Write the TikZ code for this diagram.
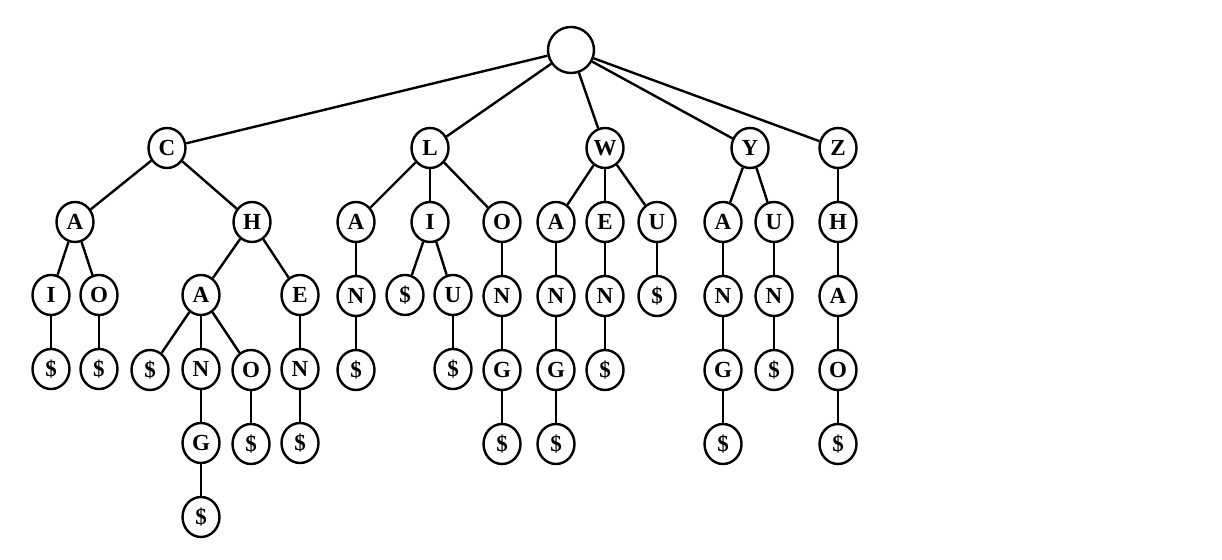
\documentclass[tikz,border=0pt]{standalone}
\usepackage{tikz}
\usepackage{fontspec}
\setmainfont{Liberation Serif}
\usetikzlibrary{shapes.geometric}

\begin{document}
\begin{tikzpicture}[x=0.5pt, y=-0.5pt, node distance={37pt}, line width=1.2pt,
        main/.style = {draw, ellipse, inner sep=0pt, minimum width=18.5pt, minimum height=20pt, font=\fontsize{11.5}{12}\selectfont\bfseries}]
            \useasboundingbox (0,0) rectangle (1222,560);

            \node[main, circle, minimum size=23pt] (R) at (571,50) {};

            \node[main] (C) at (167,148) {C};
            \node[main] (L) at (430,148) {L};
            \node[main] (W) at (605,148) {W};
            \node[main] (Y) at (750,148) {Y};
            \node[main] (Z) at (838,148) {Z};

            % C
            \node[main] (CA) at (75,222) {A};
            \node[main] (CH) at (252,222) {H};
            \node[main] (CAI) at (51,295) {I};
            \node[main] (CAO) at (99,295) {O};
            \node[main] (CAIs) [below of=CAI] {\$};
            \node[main] (CAOs) [below of=CAO] {\$};
            \node[main] (CHA) at (201,295) {A};
            \node[main] (CHE) at (300,295) {E};
            \node[main] (CHAs) at (150,370) {\$};
            \node[main] (CHAN) [below of=CHA] {N};
            \node[main] (CHAO) at (251,370) {O};
            \node[main] (CHEN) [below of=CHE] {N};
            \node[main] (CHANG) [below of=CHAN] {G};
            \node[main] (CHAOs) [below of=CHAO] {\$};
            \node[main] (CHENs) [below of=CHEN] {\$};
            \node[main] (CHANGs) [below of=CHANG] {\$};

            % L
            \node[main] (LA) at (356,222) {A};
            \node[main] (LI) at (430,222) {I};
            \node[main] (LO) at (502,222) {O};
            \node[main] (LAN) [below of=LA] {N};
            \node[main] (LANs) [below of=LAN] {\$};
            \node[main] (LIs) at (405,295) {\$};
            \node[main] (LIU) at (453,295) {U};
            \node[main] (LIUs) [below of=LIU] {\$};
            \node[main] (LON) [below of=LO] {N};
            \node[main] (LONG) [below of=LON] {G};
            \node[main] (LONGs) [below of=LONG] {\$};

            % W
            \node[main] (WA) at (556,222) {A};
            \node[main] (WE) at (605,222) {E};
            \node[main] (WU) at (657,222) {U};
            \node[main] (WAN) [below of=WA] {N};
            \node[main] (WANG) [below of=WAN] {G};
            \node[main] (WANGs) [below of=WANG] {\$};
            \node[main] (WEN) [below of=WE] {N};
            \node[main] (WENs) [below of=WEN] {\$};
            \node[main] (WUs) [below of=WU] {\$};

            % Y
            \node[main] (YA) at (723,222) {A};
            \node[main] (YU) at (774,222) {U};
            \node[main] (YAN) [below of=YA] {N};
            \node[main] (YANG) [below of=YAN] {G};
            \node[main] (YANGs) [below of=YANG] {\$};
            \node[main] (YUN) [below of=YU] {N};
            \node[main] (YUNs) [below of=YUN] {\$};

            % Z
            \node[main] (ZH) at (838,222) {H};
            \node[main] (ZHA) [below of=ZH] {A};
            \node[main] (ZHAO) [below of=ZHA] {O};
            \node[main] (ZHAOs) [below of=ZHAO] {\$};

            \path (R) edge (C) edge (L) edge (W) edge (Y) edge (Z);

            \path (C) edge (CA) edge (CH);
            \path (CA) edge (CAI) edge (CAO);
            \path (CAI) edge (CAIs);
            \path (CAO) edge (CAOs);
            \path (CH) edge (CHA) edge (CHE);
            \path (CHA) edge (CHAs) edge (CHAN) edge (CHAO);
            \path (CHAN) edge (CHANG);
            \path (CHANG) edge (CHANGs);
            \path (CHAO) edge (CHAOs);
            \path (CHE) edge (CHEN);
            \path (CHEN) edge (CHENs);

            \path (L) edge (LA) edge (LI) edge (LO);
            \path (LA) edge (LAN);
            \path (LAN) edge (LANs);
            \path (LI) edge (LIs) edge (LIU);
            \path (LIU) edge (LIUs);
            \path (LO) edge (LON);
            \path (LON) edge (LONG);
            \path (LONG) edge (LONGs);

            \path (W) edge (WA) edge (WE) edge (WU);
            \path (WA) edge (WAN);
            \path (WAN) edge (WANG);
            \path (WANG) edge (WANGs);
            \path (WE) edge (WEN);
            \path (WEN) edge (WENs);
            \path (WU) edge (WUs);

            \path (Y) edge (YA) edge (YU);
            \path (YA) edge (YAN);
            \path (YAN) edge (YANG);
            \path (YANG) edge (YANGs);
            \path (YU) edge (YUN);
            \path (YUN) edge (YUNs);

            \path (Z) edge (ZH);
            \path (ZH) edge (ZHA);
            \path (ZHA) edge (ZHAO);
            \path (ZHAO) edge (ZHAOs);
        \end{tikzpicture}
\end{document}
